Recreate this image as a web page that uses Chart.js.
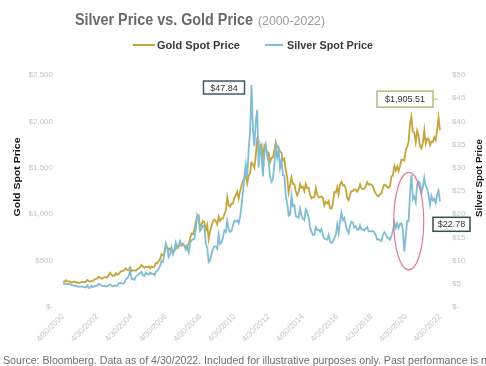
<!DOCTYPE html>
<html>
<head>
<meta charset="utf-8">
<script src="https://cdn.jsdelivr.net/npm/chart.js@4/dist/chart.umd.min.js"></script>
<style>
  html, body { margin: 0; padding: 0; background: #ffffff; }
  #wrap { width: 486px; height: 366px; position: relative; }
</style>
</head>
<body>
<div id="wrap"><canvas id="chart" width="486" height="366"></canvas></div>
<script>
// Monthly spot prices, April 2000 through April 2022.
const firstYear = 2000;
const firstMonth = 4;

// Gold spot price, USD per ounce (one row per calendar year).
const goldSpot = [
  276, 272, 288, 276, 277, 273, 264, 269, 274,                       // 2000 (Apr-Dec)
  265, 267, 258, 263, 267, 270, 266, 273, 293, 279, 275, 279,        // 2001
  282, 296, 302, 308, 326, 318, 305, 312, 324, 317, 319, 347,        // 2002
  368, 348, 334, 339, 364, 346, 354, 375, 388, 386, 398, 416,        // 2003
  400, 397, 427, 388, 394, 395, 391, 408, 416, 429, 453, 438,        // 2004
  423, 434, 429, 435, 417, 437, 429, 433, 473, 470, 495, 517,        // 2005
  568, 556, 582, 654, 643, 613, 633, 623, 599, 604, 646, 632,        // 2006
  650, 665, 662, 681, 659, 650, 665, 672, 743, 789, 783, 834,        // 2007
  923, 971, 985, 865, 885, 928, 912, 833, 884, 730, 814, 869,        // 2008
  928, 943, 924, 891, 975, 927, 955, 953, 996, 1040, 1182, 1096,     // 2009
  1081, 1116, 1113, 1180, 1207, 1244, 1169, 1246, 1307, 1357, 1386, 1421, // 2010
  1332, 1410, 1439, 1556, 1536, 1500, 1628, 1829, 1700, 1722, 1746, 1590, // 2011
  1737, 1697, 1669, 1664, 1560, 1604, 1614, 1692, 1776, 1719, 1713, 1675, // 2012
  1663, 1578, 1596, 1476, 1393, 1234, 1312, 1396, 1326, 1323, 1250, 1202, // 2013
  1240, 1326, 1284, 1296, 1250, 1327, 1282, 1287, 1210, 1172, 1183, 1184, // 2014
  1284, 1213, 1183, 1184, 1191, 1172, 1095, 1133, 1115, 1142, 1065, 1061, // 2015
  1118, 1238, 1233, 1291, 1215, 1321, 1350, 1309, 1316, 1278, 1173, 1152, // 2016
  1211, 1250, 1249, 1268, 1268, 1242, 1268, 1322, 1280, 1271, 1275, 1303, // 2017
  1345, 1318, 1325, 1315, 1299, 1253, 1224, 1201, 1192, 1215, 1222, 1282, // 2018
  1321, 1313, 1292, 1284, 1305, 1409, 1413, 1520, 1472, 1513, 1464, 1517, // 2019
  1589, 1585, 1577, 1687, 1730, 1781, 1975, 2050, 1887, 1879, 1777, 1898, // 2020
  1848, 1734, 1708, 1768, 1903, 1763, 1814, 1814, 1743, 1783, 1775, 1829, // 2021
  1797, 1909, 2040, 1905.51                                           // 2022 (Jan-Apr)
];

// Silver spot price, USD per ounce (one row per calendar year).
const silverSpot = [
  5.00, 4.98, 5.02, 4.92, 4.96, 4.86, 4.70, 4.66, 4.57,                         // 2000 (Apr-Dec)
  4.64, 4.45, 4.37, 4.39, 4.42, 4.36, 4.25, 4.24, 4.65, 4.15, 4.14, 4.60,       // 2001
  4.26, 4.52, 4.61, 4.57, 4.99, 4.91, 4.59, 4.51, 4.56, 4.42, 4.50, 4.67,       // 2002
  4.86, 4.56, 4.41, 4.62, 4.56, 4.58, 5.11, 5.18, 5.14, 5.04, 5.30, 5.96,       // 2003
  6.19, 6.68, 7.89, 6.00, 6.10, 5.86, 6.55, 6.76, 7.05, 7.30, 7.60, 6.82,       // 2004
  6.68, 7.38, 7.13, 6.95, 7.40, 7.12, 7.18, 6.86, 7.59, 7.82, 8.27, 8.83,       // 2005
  9.93, 9.70, 11.60, 13.70, 12.65, 10.79, 11.37, 12.84, 11.43, 12.54, 13.92, 12.90, // 2006
  13.35, 14.24, 13.33, 13.38, 13.25, 12.31, 12.94, 11.82, 13.82, 14.44, 14.53, 14.76, // 2007
  16.85, 19.78, 19.00, 16.40, 16.93, 17.50, 17.47, 13.50, 12.88, 9.69, 10.13, 11.30,  // 2008
  12.58, 13.08, 13.07, 12.54, 15.60, 13.61, 13.96, 14.96, 16.51, 16.16, 18.56, 16.89, // 2009
  16.18, 16.38, 17.55, 18.61, 18.39, 18.66, 18.05, 19.40, 21.83, 24.63, 28.23, 30.70, // 2010
  27.80, 33.94, 37.70, 47.84, 38.30, 34.68, 39.97, 42.50, 30.05, 34.68, 32.69, 28.16, // 2011
  33.13, 34.90, 32.50, 31.26, 28.11, 27.00, 27.50, 30.80, 34.57, 32.19, 33.90, 30.00, // 2012
  31.70, 28.40, 28.30, 24.00, 22.30, 19.70, 19.90, 24.00, 21.70, 21.90, 19.60, 19.50, // 2013
  19.20, 21.20, 19.70, 19.00, 18.70, 21.00, 20.40, 19.40, 17.10, 16.30, 15.50, 15.60, // 2014
  17.20, 16.60, 16.60, 16.20, 16.80, 15.60, 14.70, 14.60, 14.50, 15.50, 14.10, 13.80, // 2015
  14.10, 14.90, 15.40, 17.80, 15.90, 18.40, 20.30, 18.70, 19.20, 17.60, 16.50, 15.90, // 2016
  17.50, 18.40, 18.20, 17.10, 17.40, 16.60, 16.70, 17.60, 16.70, 16.70, 16.50, 16.90, // 2017
  17.20, 16.40, 16.30, 16.30, 16.40, 16.10, 15.50, 14.50, 14.60, 14.40, 14.20, 15.50, // 2018
  16.10, 15.70, 15.00, 14.90, 14.50, 15.30, 16.40, 18.30, 17.00, 18.00, 17.00, 17.90, // 2019
  18.00, 16.60, 12.00, 15.20, 18.50, 18.50, 24.40, 28.50, 23.30, 23.80, 22.60, 26.40, // 2020
  27.00, 26.70, 24.50, 25.90, 27.90, 26.10, 25.50, 24.00, 22.00, 24.00, 23.00, 23.30, // 2021
  22.40, 24.30, 25.10, 22.78                                                    // 2022 (Jan-Apr)
];

// Labels shown along the time axis, one every two years.
const tickLabels = [
  '4/30/2000', '4/30/2002', '4/30/2004', '4/30/2006', '4/30/2008', '4/30/2010',
  '4/30/2012', '4/30/2014', '4/30/2016', '4/30/2018', '4/30/2020', '4/30/2022'
];

const goldTicks = [0, 500, 1000, 1500, 2000, 2500];
const silverTicks = [0, 5, 10, 15, 20, 25, 30, 35, 40, 45, 50];

// Month keys for the category axis ("2000-04", "2000-05", ...).
const months = goldSpot.map((_, i) => {
  const m = firstMonth - 1 + i;
  const y = firstYear + Math.floor(m / 12);
  return y + '-' + String((m % 12) + 1).padStart(2, '0');
});

const GOLD = '#c6a53a';
const SILVER = '#80bdd3';
const SANS = "'Liberation Sans', Arial, sans-serif";
const NARROW = "'Liberation Sans Narrow', 'Liberation Sans', Arial, sans-serif";

// Draws text squeezed or stretched horizontally to a given width.
function fitText(ctx, text, x, y, width, font, color, align) {
  ctx.save();
  ctx.font = font;
  ctx.fillStyle = color;
  ctx.textBaseline = 'alphabetic';
  ctx.textAlign = 'left';
  const w = ctx.measureText(text).width;
  const k = width / w;
  let left = x;
  if (align === 'center') left = x - width / 2;
  ctx.translate(left, y);
  ctx.scale(k, 1);
  ctx.fillText(text, 0, 0);
  ctx.restore();
}

function fmtDollar(v) {
  return v === 0 ? '$-' : '$' + v.toLocaleString('en-US');
}

// Header, legend, axis titles and footnote.
const decorations = {
  id: 'decorations',
  afterDraw(chart) {
    const ctx = chart.ctx;
    fitText(ctx, 'Silver Price vs. Gold Price', 75, 25, 178, 'bold 16px ' + NARROW, '#6a6a6a');
    fitText(ctx, '(2000-2022)', 258, 25, 67, '13px ' + NARROW, '#9c9c9c');

    // legend
    ctx.save();
    ctx.lineWidth = 2;
    ctx.strokeStyle = GOLD;
    ctx.beginPath(); ctx.moveTo(133, 45); ctx.lineTo(155, 45); ctx.stroke();
    ctx.strokeStyle = SILVER;
    ctx.beginPath(); ctx.moveTo(265, 45); ctx.lineTo(283, 45); ctx.stroke();
    ctx.restore();
    fitText(ctx, 'Gold Spot Price', 157, 49, 83, 'bold 10px ' + SANS, '#3a3a3a');
    fitText(ctx, 'Silver Spot Price', 287, 49, 86, 'bold 10px ' + SANS, '#3a3a3a');

    // axis titles, both reading bottom to top
    ctx.save();
    ctx.translate(20, 177);
    ctx.rotate(-Math.PI / 2);
    fitText(ctx, 'Gold Spot Price', 0, 0, 79, 'bold 9.5px ' + SANS, '#111111', 'center');
    ctx.restore();
    ctx.save();
    ctx.translate(482, 178);
    ctx.rotate(-Math.PI / 2);
    fitText(ctx, 'Silver Spot Price', 0, 0, 78, 'bold 9.5px ' + SANS, '#111111', 'center');
    ctx.restore();

    fitText(ctx,
      'Source: Bloomberg. Data as of 4/30/2022. Included for illustrative purposes only. Past performance is n',
      3, 364, 484, '10px ' + NARROW, '#6e6e6e');
  }
};

// Value call-outs and the highlight ring around the 2020 silver swing.
function callout(ctx, text, x, y, w, h, border) {
  ctx.save();
  ctx.fillStyle = '#ffffff';
  ctx.fillRect(x, y, w, h);
  ctx.lineWidth = 1.5;
  ctx.strokeStyle = border;
  ctx.strokeRect(x, y, w, h);
  ctx.fillStyle = '#333333';
  ctx.font = '9px ' + SANS;
  ctx.textAlign = 'center';
  ctx.textBaseline = 'middle';
  ctx.fillText(text, x + w / 2, y + h / 2 + 0.5);
  ctx.restore();
}

const annotations = {
  id: 'annotations',
  afterDraw(chart) {
    const ctx = chart.ctx;
    const xs = chart.scales.x, yg = chart.scales.y, ys = chart.scales.y2;

    // silver peak
    const peak = silverSpot.indexOf(Math.max(...silverSpot));
    const px = xs.getPixelForValue(peak), py = ys.getPixelForValue(silverSpot[peak]);
    callout(ctx, '$' + silverSpot[peak].toFixed(2), px - 48, py - 4, 41, 13, '#3f5c5f');

    // latest gold
    const last = goldSpot.length - 1;
    const gx = xs.getPixelForValue(last), gy = yg.getPixelForValue(goldSpot[last]);
    callout(ctx, '$' + goldSpot[last].toLocaleString('en-US', { minimumFractionDigits: 2 }),
      gx - 63, gy - 39, 56, 16, '#b9b97c');
    ctx.save();
    ctx.strokeStyle = '#b9b97c';
    ctx.lineWidth = 1;
    ctx.beginPath(); ctx.moveTo(gx - 7, gy - 31); ctx.lineTo(gx - 2, gy - 31); ctx.stroke();
    ctx.restore();

    // latest silver
    const sx = xs.getPixelForValue(last), sy = ys.getPixelForValue(silverSpot[last]);
    callout(ctx, '$' + silverSpot[last].toFixed(2), sx - 7, sy + 16, 37, 14, '#2f4f50');

    // ring around the 2020 swing
    const ci = months.indexOf('2020-04');
    const cx = xs.getPixelForValue(ci) + 3;
    const top = ys.getPixelForValue(29), bottom = ys.getPixelForValue(8);
    ctx.save();
    ctx.strokeStyle = '#e07a92';
    ctx.lineWidth = 1.2;
    ctx.beginPath();
    ctx.ellipse(cx, (top + bottom) / 2, 15, (bottom - top) / 2, 0, 0, Math.PI * 2);
    ctx.stroke();
    ctx.restore();
  }
};

new Chart(document.getElementById('chart'), {
  type: 'line',
  data: {
    labels: months,
    datasets: [
      {
        label: 'Gold Spot Price', data: goldSpot, yAxisID: 'y',
        borderColor: GOLD, borderWidth: 1.8, pointRadius: 0, tension: 0, order: 2
      },
      {
        label: 'Silver Spot Price', data: silverSpot, yAxisID: 'y2',
        borderColor: SILVER, borderWidth: 1.8, pointRadius: 0, tension: 0, order: 1
      }
    ]
  },
  options: {
    responsive: false,
    animation: false,
    layout: { padding: { top: 75, left: 0, right: 0, bottom: 0 } },
    plugins: { legend: { display: false }, title: { display: false }, tooltip: { enabled: false } },
    scales: {
      x: {
        type: 'category',
        offset: false,
        grid: { display: false, drawTicks: false },
        border: { display: false },
        ticks: {
          autoSkip: false, minRotation: 45, maxRotation: 45, padding: 5,
          color: '#c4c4c4', font: { family: SANS, size: 8 },
          callback: (v, i) => (i % 24 === 0 ? tickLabels[i / 24] : '')
        },
        afterFit: s => { s.height = 59; }
      },
      y: {
        position: 'left', min: 0, max: 2500,
        grid: { display: false, drawTicks: false },
        border: { display: false },
        afterBuildTicks: s => { s.ticks = goldTicks.map(v => ({ value: v })); },
        ticks: { padding: 10, color: '#c4c4c4', font: { family: SANS, size: 8 }, callback: fmtDollar },
        afterFit: s => { s.width = 63; }
      },
      y2: {
        position: 'right', min: 0, max: 50,
        grid: { display: false, drawTicks: false },
        border: { display: false },
        afterBuildTicks: s => { s.ticks = silverTicks.map(v => ({ value: v })); },
        ticks: { padding: 12, color: '#c4c4c4', font: { family: SANS, size: 8 }, callback: fmtDollar },
        afterFit: s => { s.width = 46; }
      }
    }
  },
  plugins: [decorations, annotations]
});
</script>
</body>
</html>
